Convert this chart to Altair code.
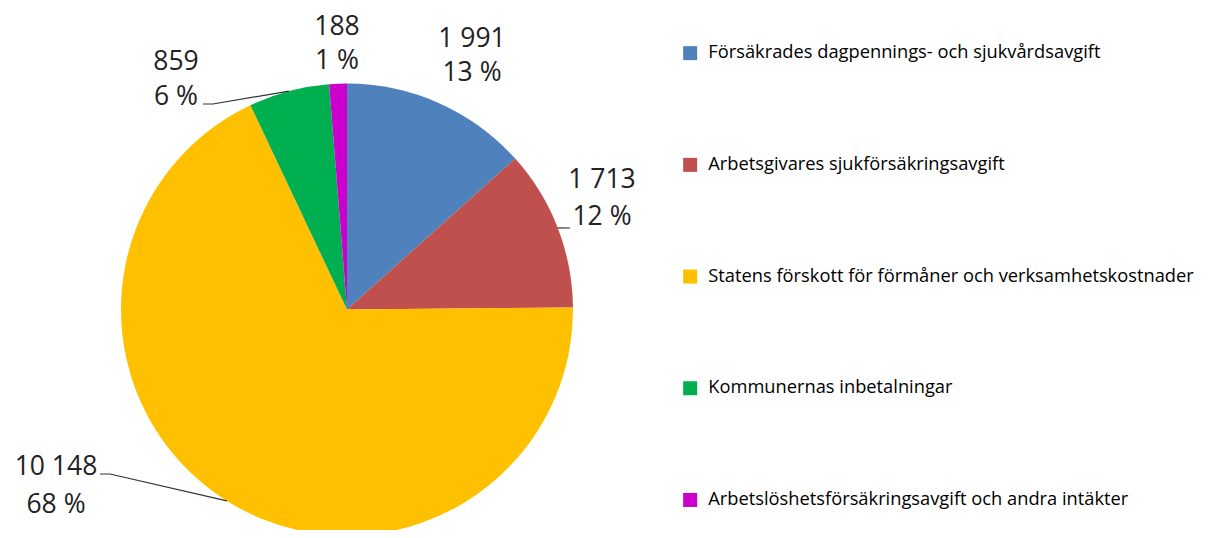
import math
import altair as alt
import pandas as pd

# ---- data ----
categories = [
    "Försäkrades dagpennings- och sjukvårdsavgift",
    "Arbetsgivares sjukförsäkringsavgift",
    "Statens förskott för förmåner och verksamhetskostnader",
    "Kommunernas inbetalningar",
    "Arbetslöshetsförsäkringsavgift och andra intäkter",
]
values = [1991, 1713, 10148, 859, 188]
value_labels = ["1 991", "1 713", "10 148", "859", "188"]
pct_labels = ["13 %", "12 %", "68 %", "6 %", "1 %"]
colors = ["#4F81BD", "#C0504D", "#FFC000", "#00B050", "#CC00CC"]

# ---- layout (chart coordinates, page minus 8px margin) ----
CX, CY, R = 339, 301.5, 226
FONT = "Open Sans"
# label block anchors: (x centre, y of first line, y of second line)
label_pos = {
    0: (464, 31, 65),
    1: (594, 172, 209),
    2: (48, 459, 497),
    3: (168, 54, 89),
    4: (329, 19, 53),
}
# leader lines: (start x, start y, elbow x) -- end is the slice edge at mid angle
leaders = {
    1: (562, 220, 562),
    2: (92, 466, 102),
    3: (195, 96, 205),
}

df = pd.DataFrame({
    "cat": categories,
    "value": values,
    "order": list(range(len(categories))),
})

total = sum(values)
mid_angles = []
cum = 0
for v in values:
    mid_angles.append((cum + v / 2) / total * 2 * math.pi)
    cum += v

text_rows = []
for i, (x, y1, y2) in label_pos.items():
    text_rows.append({"x": x, "y": y1, "t": value_labels[i]})
    text_rows.append({"x": x, "y": y2, "t": pct_labels[i]})
text_df = pd.DataFrame(text_rows)

line_rows = []
for i, (sx, sy, ex) in leaders.items():
    a = mid_angles[i]
    edge_x = CX + R * math.sin(a)
    edge_y = CY - R * math.cos(a)
    line_rows.append({"g": i, "k": 0, "x": sx, "y": sy})
    line_rows.append({"g": i, "k": 1, "x": ex, "y": sy})
    line_rows.append({"g": i, "k": 2, "x": edge_x, "y": edge_y})
line_df = pd.DataFrame(line_rows)

pie = alt.Chart(df).mark_arc(outerRadius=R, strokeWidth=0).encode(
    theta=alt.Theta("value:Q", stack=True),
    order=alt.Order("order:Q"),
    x=alt.value(CX),
    y=alt.value(CY),
    color=alt.Color(
        "cat:N",
        scale=alt.Scale(domain=categories, range=colors),
        legend=alt.Legend(
            title=None,
            orient="none",
            legendX=673,
            legendY=36,
            padding=0,
            symbolType="square",
            symbolSize=196,
            symbolStrokeWidth=0,
            labelFont=FONT,
            labelFontSize=18.3,
            labelColor="#000000",
            labelOffset=9,
            labelLimit=600,
            rowPadding=92.7,
        ),
    ),
)

texts = alt.Chart(text_df).mark_text(
    font=FONT, fontSize=26.5, color="#222222", align="center", baseline="middle"
).encode(
    x=alt.X("x:Q", scale=None),
    y=alt.Y("y:Q", scale=None),
    text="t:N",
)

lines = alt.Chart(line_df).mark_line(color="#333333", strokeWidth=1.2).encode(
    x=alt.X("x:Q", scale=None),
    y=alt.Y("y:Q", scale=None),
    detail="g:N",
    order="k:Q",
)

chart = alt.layer(pie, lines, texts).properties(
    width=1213, height=522, padding=0, autosize="none", background="white"
).configure_view(stroke="transparent", strokeWidth=0)

chart.save("out.html", embed_options={"renderer": "svg", "actions": False})
